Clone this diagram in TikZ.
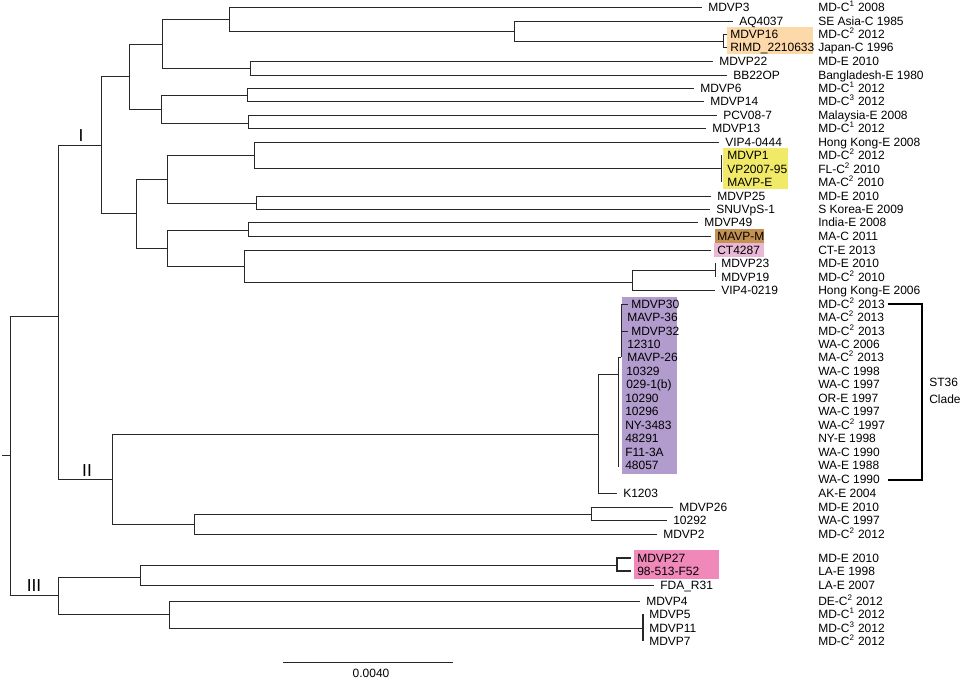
\documentclass[tikz,border=0pt]{standalone}
\usepackage{fontspec}
\setmainfont{Liberation Sans}
\definecolor{hlorange}{RGB}{253,216,168}
\definecolor{hlyellow}{RGB}{240,234,104}
\definecolor{hlbrown}{RGB}{196,145,82}
\definecolor{hlpink}{RGB}{232,184,214}
\definecolor{hlpurple}{RGB}{178,156,206}
\definecolor{hlmagenta}{RGB}{240,136,186}
\definecolor{treeline}{RGB}{40,40,40}
\begin{document}
\begin{tikzpicture}[x=0.75pt,y=-0.75pt,
  tree/.style={line width=0.75pt, draw=treeline},
  toleaf/.style={tree, shorten >=4.5pt},
  tickleaf/.style={tree, shorten >=2.2pt},
  leafname/.style={anchor=west, inner xsep=0pt, inner ysep=0pt, text height=6.45pt, text depth=0pt, font=\fontsize{9}{10}\selectfont},
  info/.style={leafname},
  cladelab/.style={font=\fontsize{13}{14}\selectfont, inner sep=0pt},
  hl/.style={draw=none}
]
\useasboundingbox (0,0) rectangle (964,679);
\fill[white] (0,0) rectangle (964,679);

% highlight boxes
\fill[hlorange] (727,27) rectangle (813,54);
\fill[hlyellow] (723,148) rectangle (788,189);
\fill[hlbrown] (715,229) rectangle (764,243);
\fill[hlpink] (714,243) rectangle (764,257);
\fill[hlpurple] (622,297) rectangle (677,474);
\fill[hlmagenta] (634,550) rectangle (719,579);

% leaf names
\node[leafname] (mdvp3) at (708,7) {MDVP3};
\node[leafname] (aq4037) at (739,21) {AQ4037};
\node[leafname] (mdvp16) at (730,34) {MDVP16};
\node[leafname] (rimd) at (730,47) {RIMD\_2210633};
\node[leafname] (mdvp22) at (719,61) {MDVP22};
\node[leafname] (bb22op) at (733,75) {BB22OP};
\node[leafname] (mdvp6) at (700,88) {MDVP6};
\node[leafname] (mdvp14) at (710,101) {MDVP14};
\node[leafname] (pcv) at (723,115) {PCV08-7};
\node[leafname] (mdvp13) at (712,128) {MDVP13};
\node[leafname] (vip444) at (725,142) {VIP4-0444};
\node[leafname] (mdvp1) at (727,155) {MDVP1};
\node[leafname] (vp2007) at (727,169) {VP2007-95};
\node[leafname] (mavpe) at (727,182) {MAVP-E};
\node[leafname] (mdvp25) at (717,196) {MDVP25};
\node[leafname] (snu) at (716,209) {SNUVpS-1};
\node[leafname] (mdvp49) at (704,222) {MDVP49};
\node[leafname] (mavpm) at (717,236) {MAVP-M};
\node[leafname] (ct4287) at (717,250) {CT4287};
\node[leafname] (mdvp23) at (721,263) {MDVP23};
\node[leafname] (mdvp19) at (721,277) {MDVP19};
\node[leafname] (vip219) at (721,290) {VIP4-0219};
\node[leafname] (mdvp30) at (631,304) {MDVP30};
\node[leafname] (mavp36) at (627,317) {MAVP-36};
\node[leafname] (mdvp32) at (631,331) {MDVP32};
\node[leafname] (s12310) at (627,344) {12310};
\node[leafname] (mavp26) at (627,357) {MAVP-26};
\node[leafname] (s10329) at (626,371) {10329};
\node[leafname] (s0291b) at (626,384) {029-1(b)};
\node[leafname] (s10290) at (625,398) {10290};
\node[leafname] (s10296) at (625,411) {10296};
\node[leafname] (ny3483) at (625,425) {NY-3483};
\node[leafname] (s48291) at (625,438) {48291};
\node[leafname] (f113a) at (625,452) {F11-3A};
\node[leafname] (s48057) at (625,465) {48057};
\node[leafname] (k1203) at (623,493) {K1203};
\node[leafname] (mdvp26) at (679,507) {MDVP26};
\node[leafname] (s10292) at (673,520) {10292};
\node[leafname] (mdvp2) at (663,534) {MDVP2};
\node[leafname] (mdvp27) at (637,558) {MDVP27};
\node[leafname] (f52) at (637,571) {98-513-F52};
\node[leafname] (fdar31) at (660,585) {FDA\_R31};
\node[leafname] (mdvp4) at (646,601) {MDVP4};
\node[leafname] (mdvp5) at (649,614) {MDVP5};
\node[leafname] (mdvp11) at (649,628) {MDVP11};
\node[leafname] (mdvp7) at (649,641) {MDVP7};

% right-hand information column
\foreach \yy/\lbl [count=\i] in {
  7/{MD-C\textsuperscript{1} 2008},
  21/{SE Asia-C 1985},
  34/{MD-C\textsuperscript{2} 2012},
  47/{Japan-C 1996},
  61/{MD-E 2010},
  75/{Bangladesh-E 1980},
  88/{MD-C\textsuperscript{1} 2012},
  101/{MD-C\textsuperscript{3} 2012},
  115/{Malaysia-E 2008},
  128/{MD-C\textsuperscript{1} 2012},
  142/{Hong Kong-E 2008},
  155/{MD-C\textsuperscript{2} 2012},
  169/{FL-C\textsuperscript{2} 2010},
  182/{MA-C\textsuperscript{2} 2010},
  196/{MD-E 2010},
  209/{S Korea-E 2009},
  222/{India-E 2008},
  236/{MA-C 2011},
  250/{CT-E 2013},
  263/{MD-E 2010},
  277/{MD-C\textsuperscript{2} 2010},
  290/{Hong Kong-E 2006},
  304/{MD-C\textsuperscript{2} 2013},
  317/{MA-C\textsuperscript{2} 2013},
  331/{MD-C\textsuperscript{2} 2013},
  344/{WA-C 2006},
  357/{MA-C\textsuperscript{2} 2013},
  371/{WA-C 1998},
  384/{WA-C 1997},
  398/{OR-E 1997},
  411/{WA-C 1997},
  425/{WA-C\textsuperscript{2} 1997},
  438/{NY-E 1998},
  452/{WA-C 1990},
  465/{WA-E 1988},
  479/{WA-C 1990},
  493/{AK-E 2004},
  507/{MD-E 2010},
  520/{WA-C 1997},
  534/{MD-C\textsuperscript{2} 2012},
  558/{MD-E 2010},
  571/{LA-E 1998},
  585/{LA-E 2007},
  601/{DE-C\textsuperscript{2} 2012},
  614/{MD-C\textsuperscript{1} 2012},
  628/{MD-C\textsuperscript{3} 2012},
  641/{MD-C\textsuperscript{2} 2012}}
  \node[info] (r\i) at (818,\yy) {\lbl};

% internal nodes
\coordinate (rootstub) at (2,455);
\coordinate (root) at (10,455);
\coordinate (nA) at (58,316);
\coordinate (nB) at (58,595);
\coordinate (nI) at (101,145);
\coordinate (nII) at (112,479);
\coordinate (i1) at (129,76);
\coordinate (i2) at (136,213);
\coordinate (i11) at (162,44);
\coordinate (i12) at (161,109);
\coordinate (i111) at (229,19);
\coordinate (i1112) at (514,31);
\coordinate (i11122) at (723,41);
\coordinate (i112) at (250,68);
\coordinate (i121) at (247,95);
\coordinate (i122) at (248,123);
\coordinate (i21) at (167,179);
\coordinate (i22) at (167,248);
\coordinate (i211) at (254,155);
\coordinate (i2112) at (721,168);
\coordinate (i212) at (256,203);
\coordinate (i221) at (248,230);
\coordinate (i222) at (244,266);
\coordinate (i2222) at (632,282);
\coordinate (i22221) at (715,270);
\coordinate (ii1) at (598,434);
\coordinate (ii11) at (618,374);
\coordinate (ii2) at (194,524);
\coordinate (ii21) at (591,514);
\coordinate (iii1) at (140,577);
\coordinate (iii11) at (617,565);
\coordinate (iii2) at (169,614);
\coordinate (iii22) at (643,628);
% ST36 cluster internal coordinates
\coordinate (stTop) at (618,357);
\coordinate (stBot) at (618,467);
\coordinate (sub) at (621,357);
\coordinate (subTop) at (621,304);

% edges
\draw[tree] (rootstub) -- (root);
\draw[tree] (root) |- (nA);
\draw[tree] (root) |- (nB);
\draw[tree] (nA) |- (nI);
\draw[tree] (nA) |- (nII);
% clade I
\draw[tree] (nI) |- (i1);
\draw[tree] (nI) |- (i2);
\draw[tree] (i1) |- (i11);
\draw[tree] (i1) |- (i12);
\draw[tree] (i11) |- (i111);
\draw[tree] (i11) |- (i112);
\draw[toleaf] (i111) |- (mdvp3.west);
\draw[tree] (i111) |- (i1112);
\draw[toleaf] (i1112) |- (aq4037.west);
\draw[tree] (i1112) |- (i11122);
\draw[tickleaf] (i11122) |- (mdvp16.west);
\draw[tickleaf] (i11122) |- (rimd.west);
\draw[toleaf] (i112) |- (mdvp22.west);
\draw[toleaf] (i112) |- (bb22op.west);
\draw[tree] (i12) |- (i121);
\draw[tree] (i12) |- (i122);
\draw[toleaf] (i121) |- (mdvp6.west);
\draw[toleaf] (i121) |- (mdvp14.west);
\draw[toleaf] (i122) |- (pcv.west);
\draw[toleaf] (i122) |- (mdvp13.west);
\draw[tree] (i2) |- (i21);
\draw[tree] (i2) |- (i22);
\draw[tree] (i21) |- (i211);
\draw[tree] (i21) |- (i212);
\draw[toleaf] (i211) |- (vip444.west);
\draw[tree] (i211) |- (i2112);
\draw[toleaf] (i2112) |- (mdvp1.west);
\draw[toleaf] (i2112) |- (vp2007.west);
\draw[toleaf] (i2112) |- (mavpe.west);
\draw[toleaf] (i212) |- (mdvp25.west);
\draw[toleaf] (i212) |- (snu.west);
\draw[tree] (i22) |- (i221);
\draw[tree] (i22) |- (i222);
\draw[toleaf] (i221) |- (mdvp49.west);
\draw[toleaf] (i221) |- (mavpm.west);
\draw[toleaf] (i222) |- (ct4287.west);
\draw[tree] (i222) |- (i2222);
\draw[tree] (i2222) |- (i22221);
\draw[toleaf] (i2222) |- (vip219.west);
\draw[toleaf] (i22221) |- (mdvp23.west);
\draw[toleaf] (i22221) |- (mdvp19.west);
% clade II
\draw[tree] (nII) |- (ii1);
\draw[tree] (nII) |- (ii2);
\draw[tree] (ii1) |- (ii11);
\draw[toleaf] (ii1) |- (k1203.west);
\draw[tree] (stTop) -- (stBot);
\draw[tree] (stTop) -- (sub);
\draw[tree] (sub) -- (subTop);
\draw[tickleaf] (subTop) |- (mdvp30.west);
\draw[tickleaf] (subTop) |- (mdvp32.west);
\draw[tree] (ii2) |- (ii21);
\draw[toleaf] (ii2) |- (mdvp2.west);
\draw[toleaf] (ii21) |- (mdvp26.west);
\draw[toleaf] (ii21) |- (s10292.west);
% clade III
\draw[tree] (nB) |- (iii1);
\draw[tree] (nB) |- (iii2);
\draw[tree] (iii1) |- (iii11);
\draw[toleaf] (iii1) |- (fdar31.west);
\draw[toleaf, line width=1.1pt] (iii11) |- (mdvp27.west);
\draw[toleaf, line width=1.1pt] (iii11) |- (f52.west);
\draw[toleaf] (iii2) |- (mdvp4.west);
\draw[tree] (iii2) |- (iii22);
\draw[toleaf, line width=1.3pt] (iii22) |- (mdvp5.west);
\draw[toleaf, line width=1.3pt] (iii22) |- (mdvp11.west);
\draw[toleaf, line width=1.3pt] (iii22) |- (mdvp7.west);

% clade labels
\node[cladelab] (labI) at (81,136) {I};
\node[cladelab] (labII) at (87,471) {II};
\node[cladelab] (labIII) at (34,586) {III};

% ST36 bracket
\coordinate (b1) at (888,304);
\coordinate (b2) at (922,304);
\coordinate (b3) at (922,480);
\coordinate (b4) at (888,480);
\draw[line width=1.5pt, draw=black] (b1) -- (b2) -- (b3) -- (b4);
\node[anchor=west, align=left, inner sep=0pt, font=\fontsize{9}{13}\selectfont] (st36) at (929,391) {ST36\\Clade};

% scale bar
\coordinate (sbl) at (283,662);
\coordinate (sbr) at (453,662);
\draw[tree] (sbl) -- (sbr);
\node[inner sep=0pt, font=\fontsize{9}{10}\selectfont] (sblab) at (371,673) {0.0040};
\end{tikzpicture}
\end{document}
